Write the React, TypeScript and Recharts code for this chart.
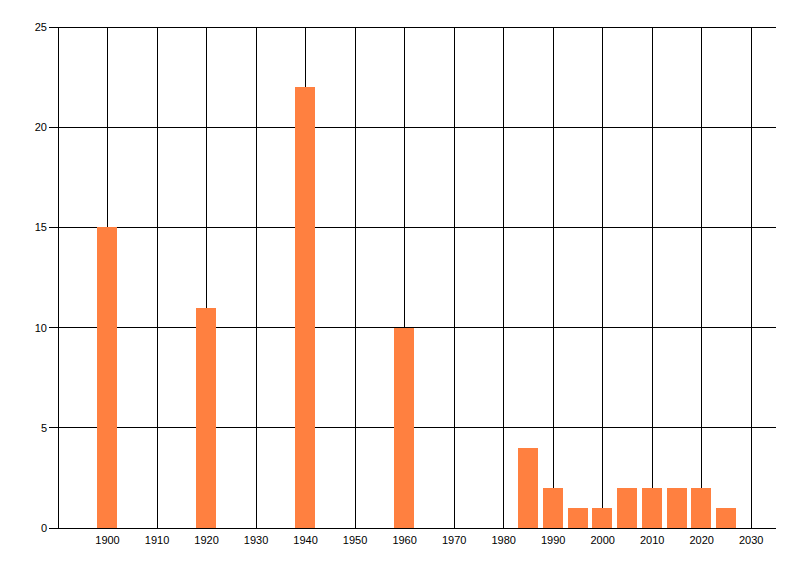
import React from "react";
import { BarChart, Bar, XAxis, YAxis, CartesianGrid } from "recharts";

const years = [1900, 1920, 1940, 1960, 1985, 1990, 1995, 2000, 2005, 2010, 2015, 2020, 2025];
const counts = [15, 11, 22, 10, 4, 2, 1, 1, 2, 2, 2, 2, 1];
const xTicks = [1900, 1910, 1920, 1930, 1940, 1950, 1960, 1970, 1980, 1990, 2000, 2010, 2020, 2030];
const yTicks = [0, 5, 10, 15, 20, 25];

const data = years.map((y, i) => ({ year: y, count: counts[i] }));

const font = { fontFamily: "Liberation Sans, Arial, sans-serif", fontSize: 11, fill: "#000" };

export default function App() {
  return (
    <div style={{ shapeRendering: "crispEdges" } as React.CSSProperties}>
      <BarChart
        width={784}
        height={560}
        data={data}
        margin={{ top: 19, right: 16, bottom: 10, left: 0 }}
        barSize={20}
      >
        <CartesianGrid stroke="#000" strokeWidth={1} verticalValues={xTicks} />
        <XAxis
          dataKey="year"
          type="number"
          domain={[1890, 2035]}
          ticks={xTicks}
          allowDataOverflow
          tickLine={false}
          axisLine={{ stroke: "#000" }}
          tick={font}
          tickMargin={2}
          height={30}
          interval={0}
        />
        <YAxis
          type="number"
          domain={[0, 25]}
          ticks={yTicks}
          width={50}
          tickSize={9}
          tickMargin={2}
          tickLine={{ stroke: "#000" }}
          axisLine={{ stroke: "#000" }}
          tick={font}
          interval={0}
        />
        <Bar dataKey="count" fill="#FF8040" isAnimationActive={false} />
      </BarChart>
    </div>
  );
}
